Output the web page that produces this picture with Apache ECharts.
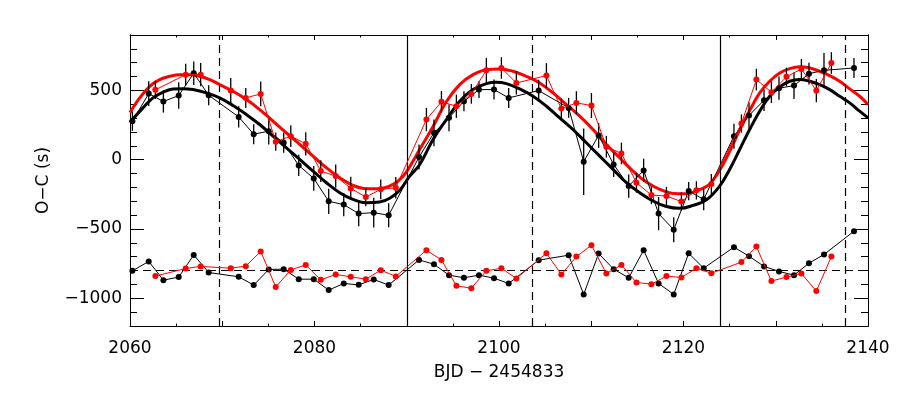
<!DOCTYPE html>
<html>
<head>
<meta charset="utf-8">
<script src="https://cdn.jsdelivr.net/npm/echarts@6/dist/echarts.min.js"></script>
<style>
  html, body { margin: 0; padding: 0; background: #fff; }
  #chart { width: 900px; height: 400px; }
</style>
</head>
<body>
<div id="chart"></div>
<script>
// black set: times, O-C, errors, residuals (offset by -800)
var blackT = [2060.26, 2062.03, 2063.62, 2065.28, 2066.91, 2068.53, 2071.78, 2073.41, 2075.04, 2076.66,
  2078.29, 2079.92, 2081.54, 2083.17, 2084.79, 2086.42, 2088.04, 2091.33, 2092.95, 2094.58,
  2096.2, 2097.83, 2099.46, 2101.05, 2104.3, 2107.55, 2109.18, 2110.8, 2112.43, 2114.06,
  2115.68, 2117.3, 2118.94, 2120.56, 2122.19, 2125.47, 2127.1, 2128.73, 2130.35, 2131.98,
  2133.6, 2135.23, 2138.48];
var blackOC = [278, 477, 420, 463, 624, 465, 309, 184, 206, 122,
  -41, -135, -300, -324, -389, -382, -401, 19, 194, 302,
  422, 506, 506, 446, 499, 374, -14, 175, -34, -190,
  -77, -389, -505, -226, -286, 170, 319, 429, 516, 535,
  621, 645, 662];
var blackErr = [70, 89, 80, 96, 84, 72, 77, 72, 96, 72,
  77, 89, 91, 84, 91, 108, 86, 90, 96, 96,
  72, 60, 72, 72, 78, 72, 240, 90, 90, 84,
  84, 120, 90, 66, 78, 90, 96, 78, 84, 96,
  78, 125, 72];
var blackRes = [-802, -734, -869, -847, -687, -814, -845, -905, -792, -790,
  -862, -862, -941, -893, -903, -864, -905, -723, -754, -833,
  -852, -833, -855, -893, -725, -689, -972, -677, -790, -852,
  -653, -893, -972, -675, -783, -631, -696, -770, -806, -833,
  -747, -684, -516];

// red set
var redT = [2062.75, 2066.04, 2067.66, 2070.92, 2072.55, 2074.17, 2075.8, 2077.43, 2079.05, 2080.68,
  2082.3, 2083.93, 2085.56, 2087.18, 2088.81, 2092.13, 2093.76, 2095.38, 2097.0, 2098.63,
  2100.26, 2101.88, 2105.14, 2106.76, 2108.39, 2110.02, 2111.64, 2113.27, 2114.9, 2116.52,
  2118.15, 2119.77, 2121.4, 2123.02, 2126.28, 2127.9, 2129.53, 2131.16, 2132.78, 2134.4,
  2136.03];
var redOC = [504, 614, 614, 499, 446, 475, 130, 170, 115, -82,
  -118, -207, -269, -214, -202, 290, 418, 386, 475, 645,
  662, 554, 607, 369, 410, 391, 94, 45, -166, -255,
  -262, -302, -221, -175, 261, 578, 487, 598, 655, 499,
  698];
var redErr = [66, 78, 84, 90, 72, 90, 66, 78, 84, 78,
  84, 84, 66, 72, 78, 84, 78, 84, 72, 90,
  78, 84, 90, 72, 84, 90, 78, 78, 72, 66,
  66, 66, 66, 72, 66, 78, 78, 66, 72, 84,
  78];
var redRes = [-840, -785, -770, -783, -768, -662, -919, -795, -759, -867,
  -828, -845, -862, -797, -842, -653, -723, -910, -927, -802,
  -783, -857, -675, -828, -699, -617, -821, -759, -886, -898,
  -840, -850, -783, -819, -739, -627, -876, -847, -821, -948,
  -699];

// model curves
var blackFitT = [2060.0, 2061.41, 2062.49, 2063.58, 2064.66, 2065.75, 2066.83, 2068.28, 2069.72, 2071.17,
  2072.62, 2074.06, 2075.5, 2076.95, 2078.4, 2079.84, 2081.29, 2082.73, 2084.17, 2085.63,
  2087.07, 2088.15, 2089.24, 2090.32, 2091.41, 2092.85, 2094.3, 2095.74, 2097.18, 2098.63,
  2099.72, 2100.8, 2102.24, 2103.69, 2105.14, 2106.58, 2108.02, 2109.47, 2110.92, 2112.36,
  2113.81, 2115.25, 2116.69, 2118.15, 2119.59, 2121.03, 2122.48, 2123.92, 2125.0, 2126.09,
  2127.17, 2128.26, 2129.34, 2130.42, 2131.51, 2132.6, 2133.68, 2134.76, 2135.85, 2136.93,
  2138.02, 2139.1, 2140.0];
var blackFit = [270, 374, 446, 487, 511, 513, 506, 482, 446, 391,
  326, 254, 170, 86, 2, -82, -166, -238, -286, -310,
  -305, -278, -220, -118, -35, 146, 290, 422, 506, 549,
  559, 549, 511, 458, 386, 302, 218, 122, 26, -70,
  -166, -238, -298, -338, -351, -330, -290, -190, -70, 74,
  218, 350, 458, 525, 566, 578, 566, 542, 506, 458,
  410, 350, 302];
var redFitT = [2060.0, 2061.05, 2062.14, 2063.22, 2064.3, 2065.39, 2066.47, 2067.56, 2068.64, 2069.72,
  2071.17, 2072.62, 2074.06, 2075.5, 2076.95, 2078.4, 2079.84, 2081.29, 2082.73, 2084.17,
  2085.63, 2087.07, 2088.52, 2089.6, 2090.68, 2091.41, 2092.85, 2094.3, 2095.74, 2097.18,
  2098.63, 2100.08, 2101.52, 2102.97, 2104.41, 2105.85, 2107.31, 2108.75, 2110.19, 2111.64,
  2113.08, 2114.53, 2115.98, 2117.42, 2118.86, 2120.31, 2121.76, 2122.85, 2123.92, 2125.0,
  2126.09, 2127.17, 2128.26, 2129.34, 2130.42, 2131.51, 2132.6, 2133.68, 2134.76, 2135.85,
  2136.93, 2138.02, 2139.1, 2140.0];
var redFit = [340, 446, 530, 578, 602, 614, 614, 602, 578, 542,
  494, 434, 362, 278, 194, 110, 26, -58, -130, -185,
  -209, -209, -178, -120, -10, 75, 240, 420, 542, 614,
  650, 655, 638, 602, 554, 482, 398, 314, 218, 110,
  14, -82, -161, -214, -243, -245, -216, -175, -76, 60,
  215, 355, 482, 566, 626, 657, 670, 662, 638, 607,
  566, 511, 458, 398];

// reference lines
var solidLines = [2090, 2124];
var dashedLines = [2069.64, 2103.58, 2137.52];
var resZero = -800;

var yMajor = [-1000, -500, 0, 500];
var yMinor = [-1200, -1100, -900, -800, -700, -600, -400, -300, -200, -100, 100, 200, 300, 400, 600, 700, 800, 900];

var font = 'DejaVu Sans';

function pairs(xs, ys) {
  return xs.map(function (x, i) { return [x, ys[i]]; });
}
function triples(xs, ys, es) {
  return xs.map(function (x, i) { return [x, ys[i], es[i]]; });
}
function errorBars(params, api) {
  var x = api.value(0), y = api.value(1), e = api.value(2);
  var p1 = api.coord([x, y - e]);
  var p2 = api.coord([x, y + e]);
  return {
    type: 'line',
    shape: { x1: p1[0], y1: p1[1], x2: p2[0], y2: p2[1] },
    style: { stroke: '#000', lineWidth: 1.3 }
  };
}

var xBase = {
  type: 'value', min: 2060, max: 2140, interval: 10,
  axisLine: { onZero: false, lineStyle: { color: '#000', width: 1 } },
  axisTick: { inside: true, length: 5, lineStyle: { color: '#000' } },
  minorTick: { show: true, splitNumber: 2, length: 2.5, lineStyle: { color: '#000' } },
  splitLine: { show: false }
};
function yAxisOf(pos, values, len, labels) {
  return {
    type: 'value', min: -1200, max: 900, position: pos,
    axisLine: { show: true, onZero: false, lineStyle: { color: '#000', width: 1 } },
    axisTick: { inside: true, length: len, customValues: values, lineStyle: { color: '#000' } },
    axisLabel: labels ? {
      customValues: values, margin: 8, color: '#000', fontSize: 17, fontFamily: font,
      formatter: function (v) { return String(v).replace('-', '\u2212'); }
    } : { show: false },
    splitLine: { show: false }
  };
}

var chart = echarts.init(document.getElementById('chart'));

var yLeft = yAxisOf('left', yMajor, 14, true);
yLeft.name = 'O\u2212C (s)';
yLeft.nameLocation = 'middle';
yLeft.nameGap = 78;
yLeft.nameTextStyle = { color: '#000', fontSize: 17, fontFamily: font };

chart.setOption({
  animation: false,
  backgroundColor: '#fff',
  grid: { left: 130, right: 32, top: 35, bottom: 74 },
  xAxis: [
    Object.assign({}, xBase, {
      position: 'bottom',
      axisLabel: {
        margin: 14, color: '#000', fontSize: 17, fontFamily: font,
        formatter: function (v) { return v % 20 === 0 ? String(v) : ''; }
      },
      name: 'BJD \u2212 2454833', nameLocation: 'middle', nameGap: 38,
      nameTextStyle: { color: '#000', fontSize: 17, fontFamily: font }
    }),
    Object.assign({}, xBase, { position: 'top', axisLabel: { show: false } })
  ],
  yAxis: [
    yLeft,
    yAxisOf('left', yMinor, 7, false),
    yAxisOf('right', yMajor, 14, false),
    yAxisOf('right', yMinor, 7, false)
  ],
  series: [
    {
      type: 'line', data: pairs(blackFitT, blackFit), smooth: 0.4, showSymbol: false,
      lineStyle: { color: '#000', width: 3 }, z: 3,
      markLine: {
        silent: true, symbol: 'none', label: { show: false },
        data: solidLines.map(function (v) { return { xAxis: v, lineStyle: { type: 'solid' } }; })
          .concat(dashedLines.map(function (v) { return { xAxis: v, lineStyle: { type: [8, 5] } }; }))
          .concat([{ yAxis: resZero, lineStyle: { type: [8, 5] } }]),
        lineStyle: { color: '#000', width: 1.2 }
      }
    },
    {
      type: 'line', data: pairs(redFitT, redFit), smooth: 0.4, showSymbol: false,
      lineStyle: { color: '#ff0000', width: 3 }, z: 3
    },
    {
      type: 'custom', renderItem: errorBars, data: triples(blackT, blackOC, blackErr),
      encode: { x: 0, y: 1 }, z: 4
    },
    {
      type: 'custom', renderItem: errorBars, data: triples(redT, redOC, redErr),
      encode: { x: 0, y: 1 }, z: 4
    },
    {
      type: 'line', data: pairs(blackT, blackOC), symbol: 'circle', symbolSize: 6,
      itemStyle: { color: '#000' }, lineStyle: { color: '#000', width: 1 }, z: 5
    },
    {
      type: 'line', data: pairs(redT, redOC), symbol: 'circle', symbolSize: 6,
      itemStyle: { color: '#ff0000' }, lineStyle: { color: '#ff0000', width: 1 }, z: 6
    },
    {
      type: 'line', data: pairs(blackT, blackRes), symbol: 'circle', symbolSize: 6,
      itemStyle: { color: '#000' }, lineStyle: { color: '#000', width: 1 }, z: 5
    },
    {
      type: 'line', data: pairs(redT, redRes), symbol: 'circle', symbolSize: 6,
      itemStyle: { color: '#ff0000' }, lineStyle: { color: '#ff0000', width: 1 }, z: 6
    }
  ]
});
</script>
</body>
</html>
